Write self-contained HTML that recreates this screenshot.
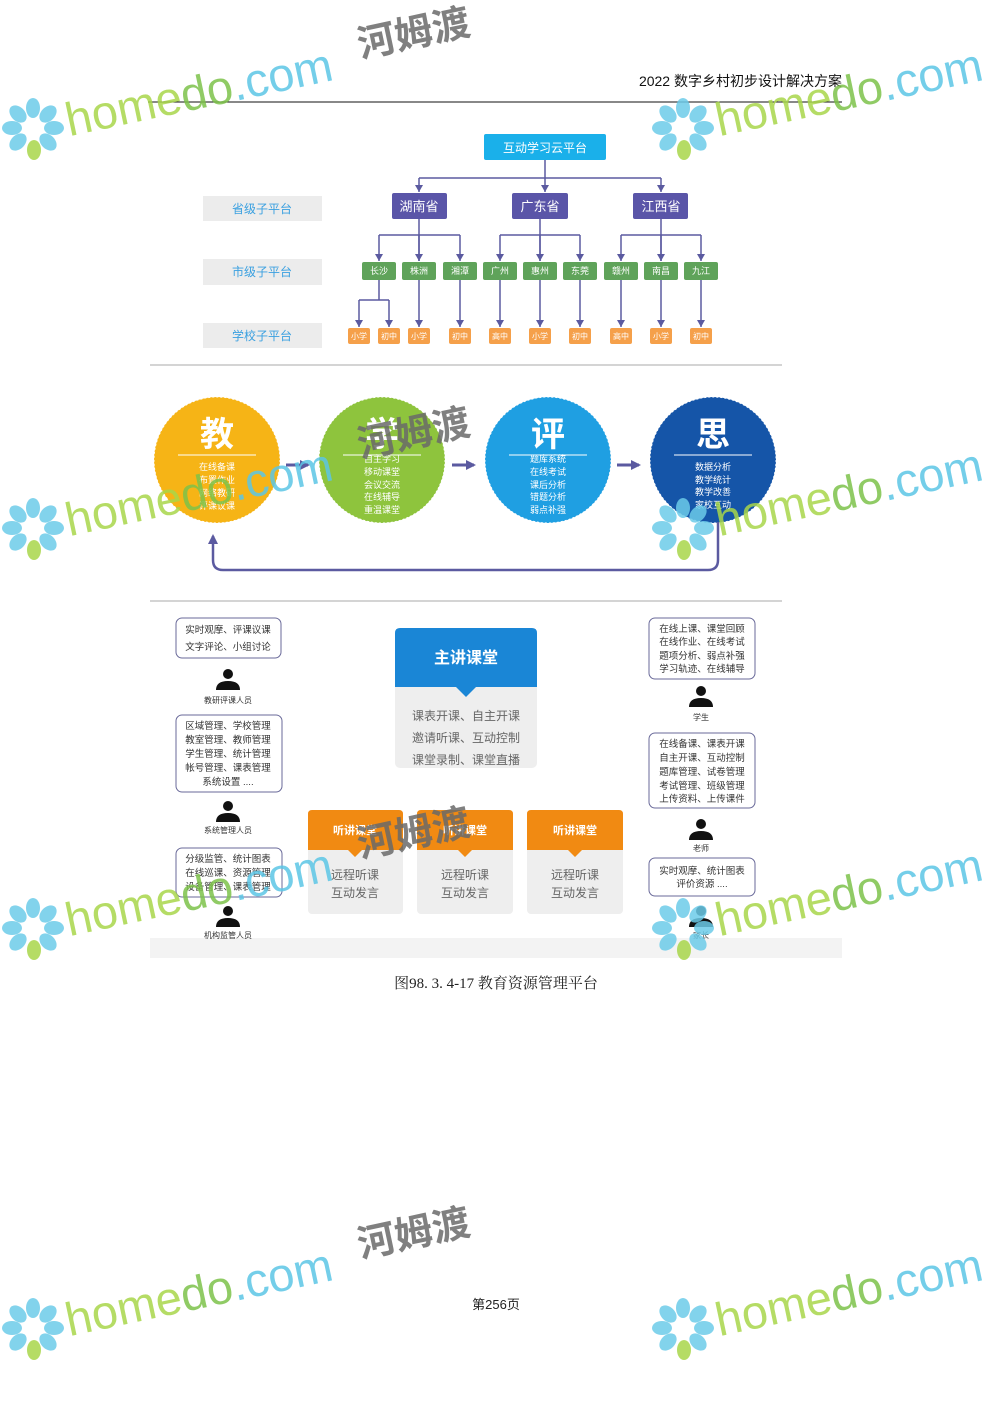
<!DOCTYPE html>
<html><head><meta charset="utf-8"><style>
html,body{margin:0;padding:0;background:#fff;}
svg{display:block;}
text{font-family:"Liberation Sans","Noto Sans CJK SC",sans-serif;}
.s{font-family:"Liberation Serif","Noto Serif CJK SC",serif;}
</style></head><body>
<svg width="992" height="1403" viewBox="0 0 992 1403" xmlns="http://www.w3.org/2000/svg">
<defs>
<marker id="ar" markerWidth="8" markerHeight="8" refX="7" refY="4" orient="auto" markerUnits="userSpaceOnUse">
<path d="M0,0 L7,4 L0,8 Z" fill="#5b5aa0"/>
</marker>
<marker id="ah" markerWidth="10" markerHeight="10" refX="8" refY="5" orient="auto" markerUnits="userSpaceOnUse">
<path d="M0,0 L10,5 L0,10 Z" fill="#5b5aa0"/>
</marker>
</defs>

<!-- header -->
<text x="842" y="86" font-size="14" text-anchor="end" fill="#111">2022 数字乡村初步设计解决方案</text>
<line x1="148" y1="102" x2="842" y2="102" stroke="#111" stroke-width="1"/>

<!-- tree -->
<rect x="203" y="196" width="119" height="25" fill="#ececec"/>
<rect x="203" y="259" width="119" height="26" fill="#ececec"/>
<rect x="203" y="323" width="119" height="25" fill="#ececec"/>
<text x="262" y="213" font-size="12" text-anchor="middle" fill="#3aa0e0">省级子平台</text>
<text x="262" y="276" font-size="12" text-anchor="middle" fill="#3aa0e0">市级子平台</text>
<text x="262" y="340" font-size="12" text-anchor="middle" fill="#3aa0e0">学校子平台</text>

<rect x="484" y="134" width="122" height="26" rx="2" fill="#1ab0ea"/>
<text x="545" y="152" font-size="12" text-anchor="middle" fill="#fff">互动学习云平台</text>
<g stroke="#5b5aa0" stroke-width="1.5" fill="none">
<path d="M545 160 V178 M419 178 H661"/>
<path d="M419 178 V192" marker-end="url(#ar)"/>
<path d="M545 178 V192" marker-end="url(#ar)"/>
<path d="M661 178 V192" marker-end="url(#ar)"/>
<path d="M419 219 V261 M540 219 V261 M661 219 V261"/>
<path d="M379 235 H460 M500 235 H580 M621 235 H701"/>
</g>
<g stroke="#5b5aa0" stroke-width="1.5" fill="none" marker-end="url(#ar)">
<path d="M379 235 V261"/><path d="M419 235 V261"/><path d="M460 235 V261"/>
<path d="M500 235 V261"/><path d="M540 235 V261"/><path d="M580 235 V261"/>
<path d="M621 235 V261"/><path d="M661 235 V261"/><path d="M701 235 V261"/>
<path d="M359 300 V327"/><path d="M389 300 V327"/>
<path d="M419 280 V327"/><path d="M460 280 V327"/><path d="M500 280 V327"/><path d="M540 280 V327"/>
<path d="M580 280 V327"/><path d="M621 280 V327"/><path d="M661 280 V327"/><path d="M701 280 V327"/>
</g>
<path d="M379 280 V300 M359 300 H389" stroke="#5b5aa0" stroke-width="1.5" fill="none"/>

<g fill="#5a55a8">
<rect x="392" y="193" width="55" height="26" rx="2"/>
<rect x="512" y="193" width="56" height="26" rx="2"/>
<rect x="633" y="193" width="55" height="26" rx="2"/>
</g>
<g font-size="13" fill="#fff" text-anchor="middle">
<text x="419" y="211">湖南省</text><text x="540" y="211">广东省</text><text x="661" y="211">江西省</text>
</g>

<g fill="#5fa35a">
<rect x="362" y="262" width="34" height="18" rx="2"/><rect x="402" y="262" width="34" height="18" rx="2"/>
<rect x="443" y="262" width="34" height="18" rx="2"/><rect x="483" y="262" width="34" height="18" rx="2"/>
<rect x="523" y="262" width="34" height="18" rx="2"/><rect x="563" y="262" width="34" height="18" rx="2"/>
<rect x="604" y="262" width="34" height="18" rx="2"/><rect x="644" y="262" width="34" height="18" rx="2"/>
<rect x="684" y="262" width="34" height="18" rx="2"/>
</g>
<g font-size="9" fill="#fff" text-anchor="middle">
<text x="379" y="274">长沙</text><text x="419" y="274">株洲</text><text x="460" y="274">湘潭</text>
<text x="500" y="274">广州</text><text x="540" y="274">惠州</text><text x="580" y="274">东莞</text>
<text x="621" y="274">赣州</text><text x="661" y="274">南昌</text><text x="701" y="274">九江</text>
</g>
<g fill="#f5a04a">
<rect x="348" y="328" width="22" height="16" rx="2"/><rect x="378" y="328" width="22" height="16" rx="2"/>
<rect x="408" y="328" width="22" height="16" rx="2"/><rect x="449" y="328" width="22" height="16" rx="2"/>
<rect x="489" y="328" width="22" height="16" rx="2"/><rect x="529" y="328" width="22" height="16" rx="2"/>
<rect x="569" y="328" width="22" height="16" rx="2"/><rect x="610" y="328" width="22" height="16" rx="2"/>
<rect x="650" y="328" width="22" height="16" rx="2"/><rect x="690" y="328" width="22" height="16" rx="2"/>
</g>
<g font-size="8" fill="#fff" text-anchor="middle">
<text x="359" y="339">小学</text><text x="389" y="339">初中</text><text x="419" y="339">小学</text>
<text x="460" y="339">初中</text><text x="500" y="339">高中</text><text x="540" y="339">小学</text>
<text x="580" y="339">初中</text><text x="621" y="339">高中</text><text x="661" y="339">小学</text><text x="701" y="339">初中</text>
</g>

<line x1="150" y1="365" x2="782" y2="365" stroke="#aaa" stroke-width="1"/>

<!-- circles -->
<g stroke="#fff" stroke-width="1" stroke-dasharray="2 2">
<circle cx="217" cy="460" r="63" fill="#f6b416"/>
<circle cx="382" cy="460" r="63" fill="#8ec43d"/>
<circle cx="548" cy="460" r="63" fill="#1f9fe2"/>
<circle cx="713" cy="460" r="63" fill="#1555a8"/>
</g>
<g stroke="#fff" stroke-width="1">
<line x1="178" y1="455" x2="256" y2="455"/><line x1="343" y1="455" x2="421" y2="455"/>
<line x1="509" y1="455" x2="587" y2="455"/><line x1="674" y1="455" x2="752" y2="455"/>
</g>
<g font-size="34" font-weight="bold" fill="#fff" text-anchor="middle">
<text x="217" y="446">教</text><text x="382" y="446">学</text><text x="548" y="446">评</text><text x="713" y="446">思</text>
</g>
<g font-size="9" fill="#fff" text-anchor="middle">
<text x="217" y="470">在线备课</text><text x="217" y="483">布置作业</text><text x="217" y="496">网络教研</text><text x="217" y="509">评课议课</text>
<text x="382" y="462">自主学习</text><text x="382" y="475">移动课堂</text><text x="382" y="488">会议交流</text><text x="382" y="500">在线辅导</text><text x="382" y="513">重温课堂</text>
<text x="548" y="462">题库系统</text><text x="548" y="475">在线考试</text><text x="548" y="488">课后分析</text><text x="548" y="500">错题分析</text><text x="548" y="513">弱点补强</text>
<text x="713" y="470">数据分析</text><text x="713" y="483">教学统计</text><text x="713" y="495">教学改善</text><text x="713" y="508">家校互动</text>
</g>
<g stroke="#5b5aa0" stroke-width="3" fill="none">
<path d="M286 465 H308" marker-end="url(#ah)"/>
<path d="M452 465 H474" marker-end="url(#ah)"/>
<path d="M617 465 H639" marker-end="url(#ah)"/>
<path d="M718 522 V560 Q718 570 708 570 H223 Q213 570 213 560 V536" stroke-width="2.5" marker-end="url(#ah)"/>
</g>

<line x1="150" y1="601" x2="782" y2="601" stroke="#aaa" stroke-width="1"/>

<!-- bottom section -->
<rect x="150" y="938" width="692" height="20" fill="#f3f3f3"/>
<rect x="395" y="628" width="142" height="140" rx="5" fill="#eeeeee"/>
<path d="M400 628 H532 Q537 628 537 633 V687 H395 V633 Q395 628 400 628 Z" fill="#1a86d6"/>
<path d="M456 687 L476 687 L466 697 Z" fill="#1a86d6"/>
<text x="466" y="663" font-size="16" font-weight="bold" fill="#fff" text-anchor="middle">主讲课堂</text>
<g font-size="12" fill="#666" text-anchor="middle">
<text x="466" y="720">课表开课、自主开课</text><text x="466" y="742">邀请听课、互动控制</text><text x="466" y="764">课堂录制、课堂直播</text>
</g>
<g>
<rect x="308" y="810" width="95" height="104" rx="4" fill="#eeeeee"/>
<rect x="417" y="810" width="96" height="104" rx="4" fill="#eeeeee"/>
<rect x="527" y="810" width="96" height="104" rx="4" fill="#eeeeee"/>
<path d="M312 810 H399 Q403 810 403 814 V850 H308 V814 Q308 810 312 810Z" fill="#f18a12"/>
<path d="M421 810 H509 Q513 810 513 814 V850 H417 V814 Q417 810 421 810Z" fill="#f18a12"/>
<path d="M531 810 H619 Q623 810 623 814 V850 H527 V814 Q527 810 531 810Z" fill="#f18a12"/>
<path d="M348 850 L362 850 L355 857Z M458 850 L472 850 L465 857Z M568 850 L582 850 L575 857Z" fill="#f18a12"/>
</g>
<g font-size="11" font-weight="bold" fill="#fff" text-anchor="middle">
<text x="355" y="834">听讲课堂</text><text x="465" y="834">听讲课堂</text><text x="575" y="834">听讲课堂</text>
</g>
<g font-size="12" fill="#666" text-anchor="middle">
<text x="355" y="879">远程听课</text><text x="355" y="897">互动发言</text>
<text x="465" y="879">远程听课</text><text x="465" y="897">互动发言</text>
<text x="575" y="879">远程听课</text><text x="575" y="897">互动发言</text>
</g>

<g fill="#fff" stroke="#6a6a9a" stroke-width="1">
<rect x="176" y="618" width="105" height="40" rx="6"/>
<rect x="176" y="715" width="106" height="77" rx="6"/>
<rect x="176" y="848" width="106" height="49" rx="6"/>
<rect x="649" y="618" width="106" height="61" rx="6"/>
<rect x="649" y="733" width="106" height="75" rx="6"/>
<rect x="649" y="858" width="106" height="38" rx="6"/>
</g>
<g font-size="9.5" fill="#333" text-anchor="middle">
<text x="228" y="633">实时观摩、评课议课</text><text x="228" y="650">文字评论、小组讨论</text>
<text x="228" y="729">区域管理、学校管理</text><text x="228" y="743">教室管理、教师管理</text><text x="228" y="757">学生管理、统计管理</text><text x="228" y="771">帐号管理、课表管理</text><text x="228" y="785">系统设置 ....</text>
<text x="228" y="862">分级监管、统计图表</text><text x="228" y="876">在线巡课、资源管理</text><text x="228" y="890">设备管理、课表管理</text>
<text x="702" y="632">在线上课、课堂回顾</text><text x="702" y="645">在线作业、在线考试</text><text x="702" y="659">题项分析、弱点补强</text><text x="702" y="672">学习轨迹、在线辅导</text>
<text x="702" y="747">在线备课、课表开课</text><text x="702" y="761">自主开课、互动控制</text><text x="702" y="775">题库管理、试卷管理</text><text x="702" y="789">考试管理、班级管理</text><text x="702" y="802">上传资料、上传课件</text>
<text x="702" y="874">实时观摩、统计图表</text><text x="702" y="887">评价资源 ....</text>
</g>
<g fill="#111">
<g transform="translate(228,668)"><circle cx="0" cy="6" r="5"/><path d="M-12 22 Q-12 13 0 13 Q12 13 12 22Z"/></g>
<g transform="translate(228,800)"><circle cx="0" cy="6" r="5"/><path d="M-12 22 Q-12 13 0 13 Q12 13 12 22Z"/></g>
<g transform="translate(228,905)"><circle cx="0" cy="6" r="5"/><path d="M-12 22 Q-12 13 0 13 Q12 13 12 22Z"/></g>
<g transform="translate(701,685)"><circle cx="0" cy="6" r="5"/><path d="M-12 22 Q-12 13 0 13 Q12 13 12 22Z"/></g>
<g transform="translate(701,818)"><circle cx="0" cy="6" r="5"/><path d="M-12 22 Q-12 13 0 13 Q12 13 12 22Z"/></g>
<g transform="translate(701,905)"><circle cx="0" cy="6" r="5"/><path d="M-12 22 Q-12 13 0 13 Q12 13 12 22Z"/></g>
</g>
<g font-size="8" fill="#333" text-anchor="middle">
<text x="228" y="703">教研评课人员</text><text x="228" y="833">系统管理人员</text><text x="228" y="938">机构监管人员</text>
<text x="701" y="720">学生</text><text x="701" y="851">老师</text><text x="701" y="938">家长</text>
</g>

<text class="s" x="496" y="988" font-size="15" text-anchor="middle" fill="#222">图98. 3. 4-17 教育资源管理平台</text>
<text x="496" y="1309" font-size="13" text-anchor="middle" fill="#222">第256页</text>

<!-- watermarks -->
<g opacity="0.85">
<g id="w1">
<g fill="#6ccbe9">
<ellipse cx="33" cy="108" rx="7" ry="10"/><ellipse cx="48" cy="114" rx="7" ry="10" transform="rotate(45 48 114)"/>
<ellipse cx="54" cy="128" rx="10" ry="7"/><ellipse cx="48" cy="142" rx="7" ry="10" transform="rotate(-45 48 142)"/>
<ellipse cx="18" cy="142" rx="7" ry="10" transform="rotate(45 18 142)"/><ellipse cx="12" cy="128" rx="10" ry="7"/>
<ellipse cx="18" cy="114" rx="7" ry="10" transform="rotate(-45 18 114)"/>
</g>
<ellipse cx="34" cy="150" rx="7" ry="10" fill="#a8d64a"/>
<g transform="rotate(-12 70 130)" font-size="47">
<text x="68" y="136" fill="#a8d64a">home<tspan fill="#7cc24a">do</tspan><tspan fill="#5cc6e6">.com</tspan></text>
</g>
</g>
<g transform="rotate(-12 360 55)"><text x="360" y="58" font-size="38" font-weight="bold" fill="#6a6a6a">河姆渡</text></g>
<use href="#w1" transform="translate(650,0)"/>
<use href="#w1" transform="translate(0,400)"/>
<use href="#w1" transform="translate(650,400)"/>
<use href="#w1" transform="translate(0,800)"/>
<use href="#w1" transform="translate(650,800)"/>
<use href="#w1" transform="translate(0,1200)"/>
<use href="#w1" transform="translate(650,1200)"/>
<g transform="rotate(-12 360 455)"><text x="360" y="458" font-size="38" font-weight="bold" fill="#6a6a6a">河姆渡</text></g>
<g transform="rotate(-12 360 855)"><text x="360" y="858" font-size="38" font-weight="bold" fill="#6a6a6a">河姆渡</text></g>
<g transform="rotate(-12 360 1255)"><text x="360" y="1258" font-size="38" font-weight="bold" fill="#6a6a6a">河姆渡</text></g>
</g>
</svg>
</body></html>
